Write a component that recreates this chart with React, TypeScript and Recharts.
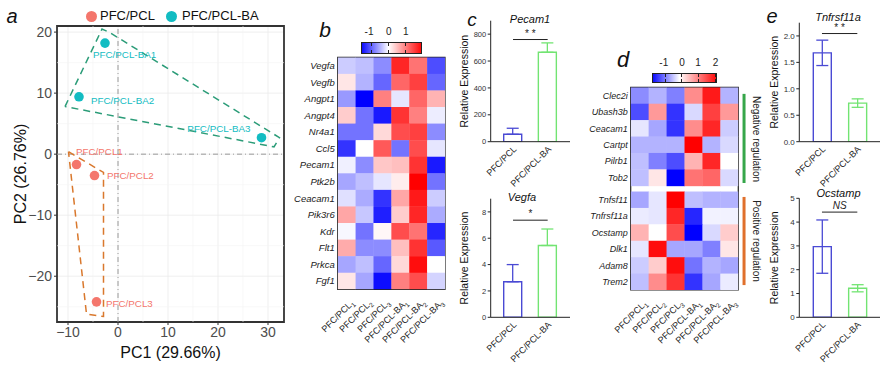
import React from "react";
import {
  ScatterChart,
  Scatter,
  BarChart,
  Bar,
  Cell,
  ErrorBar,
  XAxis,
  YAxis,
  CartesianGrid,
  ReferenceLine,
  ReferenceArea,
} from "recharts";

const FONT = '"Liberation Sans", Arial, Helvetica, sans-serif';

// ---- panel a: PCA ----
const pclNames = ["PFC/PCL1", "PFC/PCL2", "PFC/PCL3"];
const pclPC1 = [-8.3, -4.7, -4.3];
const pclPC2 = [-1.7, -3.5, -24.2];
const baNames = ["PFC/PCL-BA1", "PFC/PCL-BA2", "PFC/PCL-BA3"];
const baPC1 = [-2.6, -7.8, 28.7];
const baPC2 = [18.2, 9.4, 2.7];
const pclHullX = [-9.9, -2.9, -2.9, -6.3, -9.9];
const pclHullY = [0.4, -3.0, -26.6, -26.2, 0.4];
const baHullX = [-10.6, -3.2, -1.8, 32.3, 31.2, -10.6];
const baHullY = [7.8, 20.5, 20.0, 2.7, 1.2, 7.8];
const pcaTicksX = [-10, 0, 10, 20, 30];
const pcaTicksY = [-20, -10, 0, 10, 20];
const pcaMinorX = [-5, 5, 15, 25];
const pcaMinorY = [-25, -15, -5, 5, 15];

// ---- heatmap columns ----
const colGroups = ["PFC/PCL", "PFC/PCL", "PFC/PCL", "PFC/PCL-BA", "PFC/PCL-BA", "PFC/PCL-BA"];
const colReps = ["1", "2", "3", "1", "2", "3"];

// ---- panel b ----
const bGenes = ["Vegfa", "Vegfb", "Angpt1", "Angpt4", "Nr4a1", "Ccl5", "Pecam1", "Ptk2b", "Ceacam1", "Pik3r6", "Kdr", "Flt1", "Prkca", "Fgf1"];
const bValues = [
  [-0.2, -0.25, -0.45, 0.85, 0.55, -0.7],
  [0.1, -0.3, -0.6, 0.6, 0.75, -0.6],
  [-0.4, -1.0, 0.5, -0.1, 0.6, 0.3],
  [0.2, -0.55, -0.9, 0.8, 0.5, -0.07],
  [-0.55, -0.55, 0.15, 0.7, 0.75, -0.45],
  [-0.8, 0.0, 0.65, -0.55, 0.7, -0.1],
  [-0.06, -0.45, 0.22, 0.25, 0.8, -0.9],
  [-0.35, -0.25, -0.1, 0.07, 1.0, -0.55],
  [-0.12, -0.33, -0.8, 0.35, 0.9, -0.2],
  [0.35, -0.22, -0.88, 0.2, 0.85, -0.33],
  [-0.03, -0.55, 0.03, 0.7, 0.55, -0.85],
  [0.33, -0.45, -0.45, 0.25, 0.8, -0.65],
  [-0.35, -0.25, -0.6, 0.15, 0.95, 0.0],
  [0.1, -0.35, -0.95, 0.5, 0.7, -0.17],
];
const bScaleLabels = ["-1", "0", "1"];

// ---- panel d ----
const dGenes = ["Clec2i", "Ubash3b", "Ceacam1", "Cartpt", "Pilrb1", "Tob2", "Tnfsf11", "Tnfrsf11a", "Ocstamp", "Dlk1", "Adam8", "Trem2"];
const dValues = [
  [-0.45, -0.3, -0.5, 0.45, 0.9, -0.3],
  [-0.7, 0.4, -0.8, -0.15, 0.75, 0.4],
  [-0.1, -0.35, -0.8, 0.45, 0.85, -0.2],
  [-0.3, -0.3, -0.3, 1.0, -0.3, -0.15],
  [-0.25, -0.5, -0.7, 0.3, 0.85, 0.0],
  [-0.25, 0.1, -1.0, 0.55, 0.6, -0.15],
  [-0.35, -0.1, 1.0, -0.25, -0.3, -0.3],
  [-0.08, -0.1, 0.85, -0.85, -0.05, -0.05],
  [0.3, 0.0, 0.7, -1.0, -0.15, 0.2],
  [-0.1, 0.95, -0.35, -0.35, -0.5, 0.1],
  [-0.2, 0.2, 0.95, -0.55, -0.3, -0.35],
  [-0.25, 0.45, 0.8, -0.8, -0.35, -0.08],
];
const dScaleLabels = ["-1", "0", "1", "2"];
const dNegativeRows = [0, 5];
const dPositiveRows = [6, 11];

// ---- panels c, e ----
const barGroups = ["PFC/PCL", "PFC/PCL-BA"];
const pecam1Mean = [55, 665];
const pecam1Err = [45, 70];
const vegfaMean = [2.7, 5.45];
const vegfaErr = [1.3, 1.25];
const tnfrsf11aMean = [1.68, 0.73];
const tnfrsf11aErr = [0.24, 0.08];
const ocstampMean = [2.97, 1.22];
const ocstampErr = [1.12, 0.15];

const BLUE = "#4a4ad4";
const GREEN = "#72e472";
const SALMON = "#f4766c";
const TEAL = "#12bcc2";

const minus = (v: number) => (v < 0 ? "\u2212" + Math.abs(v) : String(v));

function heatColor(v: number) {
  const t = Math.max(-1, Math.min(1, v));
  if (t >= 0) {
    const k = Math.round(255 * (1 - t));
    return `rgb(255,${k},${k})`;
  }
  const k = Math.round(255 * (1 + t));
  return `rgb(${k},${k},255)`;
}

const Txt = ({ x, y, size, children, italic, bold, rotate, color }: any) => (
  <div
    style={{
      position: "absolute",
      left: x,
      top: y,
      transform: `translate(-50%, -50%)${rotate ? ` rotate(${rotate}deg)` : ""}`,
      fontSize: size,
      fontStyle: italic ? "italic" : "normal",
      fontWeight: bold ? "bold" : "normal",
      color: color || "#111",
      whiteSpace: "nowrap",
      lineHeight: 1,
      fontFamily: FONT,
    }}
  >
    {children}
  </div>
);

const labelOffsets: Record<string, { dx: number; dy: number; anchor: string }> = {
  "PFC/PCL1": { dx: -0.5, dy: -10, anchor: "start" },
  "PFC/PCL2": { dx: 12.5, dy: 3.6, anchor: "start" },
  "PFC/PCL3": { dx: 9.5, dy: 4.7, anchor: "start" },
  "PFC/PCL-BA1": { dx: -12, dy: 14.6, anchor: "start" },
  "PFC/PCL-BA2": { dx: 12, dy: 7, anchor: "start" },
  "PFC/PCL-BA3": { dx: -11, dy: -6, anchor: "end" },
};

const pointShape = (color: string) => (props: any) => {
  const { cx, cy, payload } = props;
  const o = labelOffsets[payload.name];
  return (
    <g>
      <circle cx={cx} cy={cy} r={4.8} fill={color} />
      <text x={cx + o.dx} y={cy + o.dy} textAnchor={o.anchor} fontSize={9.8} fill={color} fontFamily={FONT}>
        {payload.name}
      </text>
    </g>
  );
};

function PcaPanel() {
  const pcl = pclPC1.map((x, i) => ({ x, y: pclPC2[i], name: pclNames[i] }));
  const ba = baPC1.map((x, i) => ({ x, y: baPC2[i], name: baNames[i] }));
  const pclHull = pclHullX.map((x, i) => ({ x, y: pclHullY[i] }));
  const baHull = baHullX.map((x, i) => ({ x, y: baHullY[i] }));
  const axisTick = { fill: "#4d4d4d", fontSize: 14, fontFamily: FONT };
  return (
    <div style={{ position: "absolute", left: 0, top: 0 }}>
      <ScatterChart width={290} height={366} margin={{ top: 26, right: 6, bottom: 0, left: 0 }}>
        <CartesianGrid stroke="#ebebeb" strokeWidth={0.8} />
        {pcaMinorX.map((v) => (
          <ReferenceLine key={"mx" + v} x={v} stroke="#f4f4f4" strokeWidth={0.6} />
        ))}
        {pcaMinorY.map((v) => (
          <ReferenceLine key={"my" + v} y={v} stroke="#f4f4f4" strokeWidth={0.6} />
        ))}
        <ReferenceLine x={0} stroke="#9a9a9a" strokeDasharray="5 3 1 3" />
        <ReferenceLine y={0} stroke="#9a9a9a" strokeDasharray="5 3 1 3" />
        <XAxis
          type="number"
          dataKey="x"
          domain={[-12.2, 33.2]}
          ticks={pcaTicksX}
          allowDataOverflow
          height={44}
          tick={axisTick}
          tickFormatter={minus}
          tickLine={{ stroke: "#333" }}
          tickSize={3}
          axisLine={false}
          label={{ value: "PC1 (29.66%)", position: "insideBottom", offset: 8, fontSize: 16, fill: "#111", fontFamily: FONT }}
        />
        <YAxis
          type="number"
          dataKey="y"
          domain={[-27.5, 21]}
          ticks={pcaTicksY}
          allowDataOverflow
          width={57}
          tick={axisTick}
          tickFormatter={minus}
          tickLine={{ stroke: "#333" }}
          tickSize={3}
          axisLine={false}
          label={{
            value: "PC2 (26.76%)",
            angle: -90,
            position: "insideLeft",
            offset: 20,
            fontSize: 16,
            fill: "#111",
            fontFamily: FONT,
            style: { textAnchor: "middle" },
          }}
        />
        <Scatter
          data={baHull}
          line={{ stroke: "#2b9c78", strokeWidth: 1.5, strokeDasharray: "7 5" }}
          shape={() => <g />}
          legendType="none"
          isAnimationActive={false}
        />
        <Scatter
          data={pclHull}
          line={{ stroke: "#d9782d", strokeWidth: 1.5, strokeDasharray: "7 5" }}
          shape={() => <g />}
          legendType="none"
          isAnimationActive={false}
        />
        <Scatter data={pcl} shape={pointShape(SALMON)} isAnimationActive={false} />
        <Scatter data={ba} shape={pointShape(TEAL)} isAnimationActive={false} />
        <ReferenceArea x1={-12.2} x2={33.2} y1={-27.5} y2={21} fill="none" stroke="#333" strokeWidth={1.8} ifOverflow="visible" />
      </ScatterChart>
    </div>
  );
}

const ColTick = (props: any) => {
  const { x, y, payload } = props;
  const i = Math.floor(payload.value);
  return (
    <text
      transform={`translate(${x + 8},${y + 14}) rotate(-45)`}
      textAnchor="end"
      fontSize={9}
      fill="#222"
      fontFamily={FONT}
    >
      {colGroups[i]}
      <tspan fontSize={6.5} dy={2.5}>
        {colReps[i]}
      </tspan>
    </text>
  );
};

function Heatmap({ left, top, width, height, margin, yAxisW, genes, values, gapAfter, gap, fontSize, children }: any) {
  const rowPos = genes.map((_: string, i: number) => i + 0.5 + (gapAfter != null && i >= gapAfter ? gap : 0));
  const total = genes.length + (gapAfter != null ? gap : 0);
  const plotW = width - margin.left - margin.right - yAxisW;
  const plotH = height - margin.top - margin.bottom - 60;
  const cw = plotW / 6;
  const ch = plotH / total;
  const cells: any[] = [];
  values.forEach((row: number[], r: number) =>
    row.forEach((v, c) => cells.push({ x: c + 0.5, y: rowPos[r], v }))
  );
  const colTicks = colGroups.map((_, i) => i + 0.5);
  return (
    <div style={{ position: "absolute", left, top }}>
      <ScatterChart width={width} height={height} margin={margin}>
        <XAxis
          type="number"
          dataKey="x"
          domain={[0, 6]}
          ticks={colTicks}
          interval={0}
          allowDataOverflow
          height={60}
          tick={<ColTick />}
          tickLine={false}
          tickSize={0}
          tickMargin={0}
          axisLine={false}
        />
        <YAxis
          type="number"
          dataKey="y"
          domain={[0, total]}
          reversed
          ticks={rowPos}
          interval={0}
          allowDataOverflow
          width={yAxisW}
          tickFormatter={(v: number) => genes[rowPos.indexOf(v)]}
          tick={{ fontSize, fontStyle: "italic", fill: "#222", fontFamily: FONT }}
          tickLine={false}
          tickSize={0}
          tickMargin={3}
          axisLine={false}
        />
        <Scatter
          data={cells}
          isAnimationActive={false}
          shape={(p: any) => (
            <rect x={p.cx - cw / 2} y={p.cy - ch / 2} width={cw + 0.4} height={ch + 0.4} fill={heatColor(p.payload.v)} />
          )}
        />
        <ReferenceArea x1={0} x2={6} y1={0} y2={total} fill="none" stroke="#222" strokeWidth={1.2} ifOverflow="visible" />
        {children && children(rowPos)}
      </ScatterChart>
    </div>
  );
}

function ColorBar({ left, top, width, height, labels, fracs, white }: any) {
  return (
    <>
      <div
        style={{
          position: "absolute",
          left,
          top,
          width,
          height,
          boxSizing: "border-box",
          border: "1px solid #222",
          background: `linear-gradient(to right, #0c0cff 0%, #ffffff ${white}%, #ff0c0c 100%)`,
        }}
      >
        {fracs.map((f: number, i: number) => (
          <React.Fragment key={i}>
            <div style={{ position: "absolute", left: f * width - 1.5, top: 0, width: 1, height: 3, background: "#222" }} />
            <div style={{ position: "absolute", left: f * width - 1.5, bottom: 0, width: 1, height: 3, background: "#222" }} />
          </React.Fragment>
        ))}
      </div>
      {labels.map((l: string, i: number) => (
        <Txt key={l} x={left + fracs[i] * width - (l.startsWith("-") ? 2 : 0)} y={top - 10} size={10} color="#222">
          {l}
        </Txt>
      ))}
    </>
  );
}

const BarTick = (props: any) => {
  const { x, y, payload } = props;
  return (
    <text
      transform={`translate(${x + 4},${y + 8}) rotate(-45)`}
      textAnchor="end"
      fontSize={9}
      fill="#222"
      fontFamily={FONT}
    >
      {payload.value}
    </text>
  );
};

function ExprChart({ left, top, height, marginTop, xAxisH, yAxisW, means, errs, oneSided, domain, ticks, minor, fmt, sigY, sigLabel, sigItalic, tickFont }: any) {
  const data = barGroups.map((name, i) => ({
    name,
    mean: means[i],
    [i === 0 ? "errA" : "errB"]: oneSided ? [0, errs[i]] : errs[i],
  }));
  const colors = [BLUE, GREEN];
  return (
    <div style={{ position: "absolute", left, top }}>
      <BarChart width={132} height={height} data={data} margin={{ top: marginTop, right: 2, bottom: 0, left: 0 }}>
        <XAxis
          dataKey="name"
          height={xAxisH}
          padding={{ left: 5, right: 5 }}
          interval={0}
          tick={<BarTick />}
          tickLine={false}
          tickSize={0}
          tickMargin={0}
          axisLine={{ stroke: "#222" }}
        />
        <YAxis
          yAxisId="minor"
          domain={domain}
          ticks={minor}
          interval={0}
          allowDataOverflow
          width={0}
          tick={false}
          tickSize={2}
          tickLine={{ stroke: "#222" }}
          axisLine={false}
        />
        <YAxis
          domain={domain}
          ticks={ticks}
          interval={0}
          allowDataOverflow
          width={yAxisW}
          tickFormatter={fmt}
          tick={{ fontSize: tickFont, fill: "#333", fontFamily: FONT }}
          tickSize={3}
          tickMargin={1.5}
          tickLine={{ stroke: "#222" }}
          axisLine={{ stroke: "#222" }}
          label={{
            value: "Relative Expression",
            angle: -90,
            position: "insideLeft",
            offset: 24.5,
            fontSize: 10.5,
            fill: "#111",
            fontFamily: FONT,
            style: { textAnchor: "middle" },
          }}
        />
        <Bar dataKey="mean" barSize={18} fill="#ffffff" strokeWidth={1.4} isAnimationActive={false}>
          {barGroups.map((g, i) => (
            <Cell key={g} stroke={colors[i]} />
          ))}
          <ErrorBar dataKey="errA" stroke={BLUE} width={6} strokeWidth={1.3} />
          <ErrorBar dataKey="errB" stroke={GREEN} width={6} strokeWidth={1.3} />
        </Bar>
        <ReferenceLine
          segment={[
            { x: barGroups[0], y: sigY },
            { x: barGroups[1], y: sigY },
          ]}
          stroke="#222"
          strokeWidth={1}
          ifOverflow="visible"
          label={{ value: sigLabel, position: "top", offset: 3, fontSize: 10, fill: "#222", fontStyle: sigItalic ? "italic" : "normal", fontFamily: FONT }}
        />
      </BarChart>
    </div>
  );
}

export default function App() {
  return (
    <div style={{ position: "absolute", left: 0, top: 0, width: 889, height: 366, background: "#fff", overflow: "hidden", fontFamily: FONT }}>
      <PcaPanel />
      {/* legend of panel a */}
      <div style={{ position: "absolute", left: 86.2, top: 10.5, width: 11, height: 11, borderRadius: "50%", background: SALMON }} />
      <div style={{ position: "absolute", left: 100, top: 8, fontSize: 13, lineHeight: "16px", color: "#111" }}>PFC/PCL</div>
      <div style={{ position: "absolute", left: 166.2, top: 10.5, width: 11, height: 11, borderRadius: "50%", background: TEAL }} />
      <div style={{ position: "absolute", left: 182, top: 8, fontSize: 13, lineHeight: "16px", color: "#111" }}>PFC/PCL-BA</div>

      <Heatmap
        left={280}
        top={0}
        width={180}
        height={366}
        margin={{ top: 57.3, right: 15, bottom: 16.7, left: 0 }}
        yAxisW={57.7}
        genes={bGenes}
        values={bValues}
        fontSize={9.5}
      />
      <ColorBar left={360.7} top={41.7} width={61} height={12.3} labels={bScaleLabels} fracs={[0.17, 0.46, 0.74]} white={45} />

      <ExprChart
        left={440}
        top={0}
        height={190}
        marginTop={20.7}
        xAxisH={48.3}
        yAxisW={50.7}
        means={pecam1Mean}
        errs={pecam1Err}
        oneSided
        domain={[0, 900]}
        ticks={[0, 200, 400, 600, 800]}
        minor={[100, 300, 500, 700]}
        fmt={(v: number) => String(v)}
        sigY={760}
        sigLabel="* *"
        tickFont={7.5}
      />
      <ExprChart
        left={440}
        top={180}
        height={186}
        marginTop={18.7}
        xAxisH={48.7}
        yAxisW={50.7}
        means={vegfaMean}
        errs={vegfaErr}
        oneSided
        domain={[0, 9]}
        ticks={[0, 2, 4, 6, 8]}
        minor={[1, 3, 5, 7]}
        fmt={(v: number) => String(v)}
        sigY={7.37}
        sigLabel="*"
        tickFont={7.5}
      />

      <Heatmap
        left={570}
        top={0}
        width={180}
        height={366}
        margin={{ top: 87.3, right: 11.7, bottom: 16, left: 0 }}
        yAxisW={60.7}
        genes={dGenes}
        values={dValues}
        gapAfter={6}
        gap={0.35}
        fontSize={9}
      >
        {(rowPos: number[]) => [
          <ReferenceLine
            key="neg"
            segment={[
              { x: 6.32, y: rowPos[dNegativeRows[0]] - 0.1 },
              { x: 6.32, y: rowPos[dNegativeRows[1]] + 0.33 },
            ]}
            stroke="#36a64a"
            strokeWidth={3}
            ifOverflow="visible"
          />,
          <ReferenceLine
            key="pos"
            segment={[
              { x: 6.32, y: rowPos[dPositiveRows[0]] - 0.17 },
              { x: 6.32, y: rowPos[dPositiveRows[1]] + 0.2 },
            ]}
            stroke="#e0702c"
            strokeWidth={3}
            ifOverflow="visible"
          />,
        ]}
      </Heatmap>
      <ColorBar left={652.3} top={72.7} width={64.4} height={10.6} labels={dScaleLabels} fracs={[0.21, 0.46, 0.71, 0.98]} white={42} />
      <Txt x={755.5} y={139} size={10} rotate={90} color="#222">Negative regulation</Txt>
      <Txt x={755.5} y={241} size={10} rotate={90} color="#222">Positive regulation</Txt>

      <ExprChart
        left={750}
        top={0}
        height={190}
        marginTop={22.7}
        xAxisH={48.3}
        yAxisW={49.3}
        means={tnfrsf11aMean}
        errs={tnfrsf11aErr}
        domain={[0, 2.25]}
        ticks={[0, 0.5, 1, 1.5, 2]}
        minor={[0.25, 0.75, 1.25, 1.75]}
        fmt={(v: number) => v.toFixed(1)}
        sigY={2.045}
        sigLabel="* *"
        tickFont={8}
      />
      <ExprChart
        left={750}
        top={180}
        height={186}
        marginTop={18.3}
        xAxisH={48.7}
        yAxisW={49.3}
        means={ocstampMean}
        errs={ocstampErr}
        domain={[0, 5]}
        ticks={[0, 1, 2, 3, 4, 5]}
        minor={[0.5, 1.5, 2.5, 3.5, 4.5]}
        fmt={(v: number) => String(v)}
        sigY={4.42}
        sigLabel="NS"
        sigItalic
        tickFont={8}
      />

      {/* panel letters and titles */}
      <Txt x={12} y={16} size={20} italic>a</Txt>
      <Txt x={325} y={29} size={21} italic>b</Txt>
      <Txt x={472} y={19} size={19} italic>c</Txt>
      <Txt x={623} y={60} size={22} italic>d</Txt>
      <Txt x={772} y={16} size={20} italic>e</Txt>
      <Txt x={530} y={19} size={11} italic>Pecam1</Txt>
      <Txt x={522} y={196.5} size={11} italic>Vegfa</Txt>
      <Txt x={838} y={16.5} size={11} italic>Tnfrsf11a</Txt>
      <Txt x={838.5} y={193} size={11} italic>Ocstamp</Txt>
    </div>
  );
}
